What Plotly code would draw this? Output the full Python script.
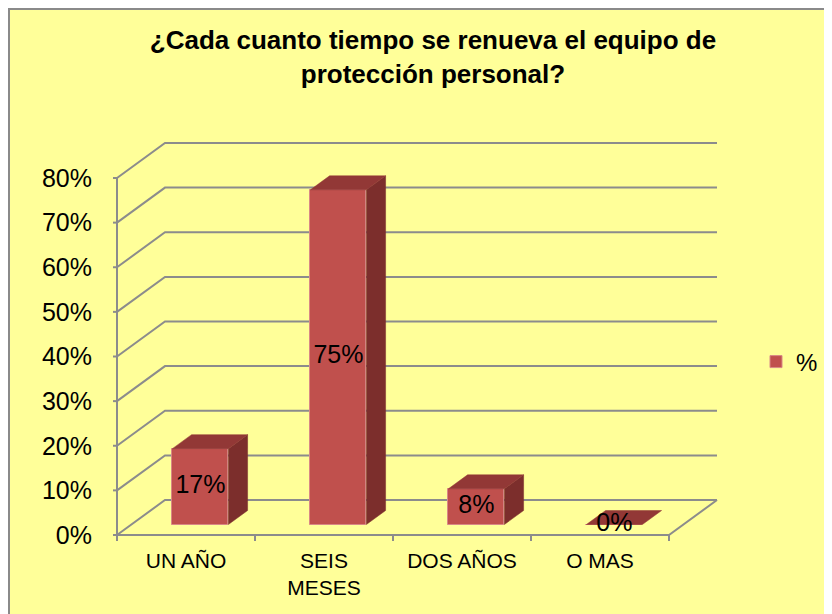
import plotly.graph_objects as go

# ---------------- data ----------------
categories = ["UN AÑO", "SEIS<br>MESES", "DOS AÑOS", "O MAS"]
values = [17, 75, 8, 0]
series_name = "%"
y_ticks = [0, 10, 20, 30, 40, 50, 60, 70, 80]
y_tick_labels = [f"{v}%" for v in y_ticks]
title_text = "<b>¿Cada cuanto tiempo se renueva el equipo de<br>protección personal?</b>"

# ---------------- geometry / style ----------------
W_PX, H_PX = 832, 614
OFF = 8                 # page body margin
PX_CAT = 138.0          # pixels per category
PX_PCT = 4.4625         # pixels per percent
X0PX, Y0PX = 117 - OFF, 535 - OFF   # pixel position of x=-0.5 / y=0
L, R, T, B = X0PX - 4, 722 - OFF, 138 - OFF, Y0PX + 4
DX = 48 / PX_CAT        # depth offset (category units)
DY = 35 / PX_PCT        # depth offset (percent units)
D0, D1 = 0.3, 0.7       # bar depth range
BW = 56 / PX_CAT        # bar width

xmin = -0.5 - (X0PX - L) / PX_CAT
xmax = -0.5 + (R - X0PX) / PX_CAT
ymin = -(B - Y0PX) / PX_PCT
ymax = (Y0PX - T) / PX_PCT

FONT = "Liberation Sans, Arial, sans-serif"
YELLOW = "#FFFF99"
GRID = "#8C8C8C"
FRONT = "#C0504D"
TOP = "#923836"
SIDE = "#7C2E2C"

n = len(categories)
x_first, x_last = -0.5, n - 0.5

fig = go.Figure()
shapes = []

def px2paper_x(px):
    return (px - L) / (R - L)

def px2paper_y(py):
    return (B - py) / (B - T)

# background frame
shapes.append(dict(type="rect", xref="paper", yref="paper", layer="below",
                   x0=px2paper_x(1), x1=px2paper_x(W_PX + 20),
                   y0=px2paper_y(H_PX + 20), y1=px2paper_y(1),
                   fillcolor=YELLOW, line=dict(color="#8A8A8A", width=2)))

# gridlines (left wall + back wall)
for v in y_ticks:
    path = (f"M {x_first},{v} L {x_first + DX},{v + DY} L {x_last + DX},{v + DY}")
    shapes.append(dict(type="path", xref="x", yref="y", layer="below", path=path,
                       line=dict(color=GRID, width=2)))
# floor front edge and right edge
shapes.append(dict(type="path", xref="x", yref="y", layer="below",
                   path=f"M {x_first},0 L {x_last},0 L {x_last + DX},{DY}",
                   line=dict(color=GRID, width=2)))
# front vertical axis line
shapes.append(dict(type="line", xref="x", yref="y", layer="below",
                   x0=x_first, x1=x_first, y0=0, y1=y_ticks[-1],
                   line=dict(color=GRID, width=2)))
# y tick marks
tick_len_x = 8 / PX_CAT
for v in y_ticks:
    shapes.append(dict(type="line", xref="x", yref="y", layer="below",
                       x0=x_first - tick_len_x, x1=x_first, y0=v, y1=v,
                       line=dict(color=GRID, width=2)))
# x tick marks at category boundaries
for k in range(n + 1):
    xb = -0.5 + k
    shapes.append(dict(type="line", xref="x", yref="paper", layer="below",
                       x0=xb, x1=xb, y0=px2paper_y(Y0PX), y1=px2paper_y(Y0PX + 6),
                       line=dict(color=GRID, width=2)))

# bars: front faces
front_x = [i + D0 * DX for i in range(n)]
base = D0 * DY
fig.add_trace(go.Bar(x=front_x, y=values, base=base, width=BW, name=series_name,
                     marker=dict(color=FRONT, line=dict(color="#D98886", width=1)),
                     showlegend=True, hoverinfo="skip"))

ddx = (D1 - D0) * DX
ddy = (D1 - D0) * DY
for i, v in enumerate(values):
    xl = front_x[i] - BW / 2
    xr = front_x[i] + BW / 2
    top = base + v
    # side face
    if v > 0:
        fig.add_trace(go.Scatter(
            x=[xr, xr, xr + ddx, xr + ddx, xr],
            y=[base, top, top + ddy, base + ddy, base],
            fill="toself", fillcolor=SIDE, mode="lines",
            line=dict(color=SIDE, width=0.5), showlegend=False, hoverinfo="skip"))
    # top face
    fig.add_trace(go.Scatter(
        x=[xl, xr, xr + ddx, xl + ddx, xl],
        y=[top, top, top + ddy, top + ddy, top],
        fill="toself", fillcolor=TOP, mode="lines",
        line=dict(color=TOP, width=0.5), showlegend=False, hoverinfo="skip"))

# data labels
fig.add_trace(go.Scatter(
    x=front_x, y=[base + v / 2 for v in values],
    text=[f"{v}%" for v in values], mode="text",
    textfont=dict(family=FONT, size=25, color="black"),
    textposition="middle center", showlegend=False, hoverinfo="skip"))

fig.update_layout(
    width=W_PX, height=H_PX,
    margin=dict(l=L, r=W_PX - R, t=T, b=H_PX - B, autoexpand=False),
    paper_bgcolor="white", plot_bgcolor="rgba(0,0,0,0)",
    font=dict(family=FONT, color="black"),
    title=dict(text=title_text, x=(433 - OFF) / W_PX, xanchor="center",
               y=1 - 41 / H_PX, yanchor="middle", yref="container",
               font=dict(family=FONT, size=26, color="black")),
    shapes=shapes,
    bargap=0,
    showlegend=True,
    legend=dict(x=px2paper_x(756 - OFF), xanchor="left", y=px2paper_y(362 - OFF),
                yanchor="middle", bgcolor="rgba(0,0,0,0)",
                font=dict(family=FONT, size=24, color="black")),
    xaxis=dict(range=[xmin, xmax], showgrid=False, zeroline=False, showline=False,
               tickvals=list(range(n)), ticktext=categories, ticks="",
               tickfont=dict(family=FONT, size=21, color="black"),
               ticklabelstandoff=7, fixedrange=True),
    yaxis=dict(range=[ymin, ymax], showgrid=False, zeroline=False, showline=False,
               tickvals=y_ticks, ticktext=y_tick_labels, ticks="",
               tickfont=dict(family=FONT, size=25, color="black"),
               ticklabelstandoff=20, fixedrange=True),
)

fig.write_html("out.html")
